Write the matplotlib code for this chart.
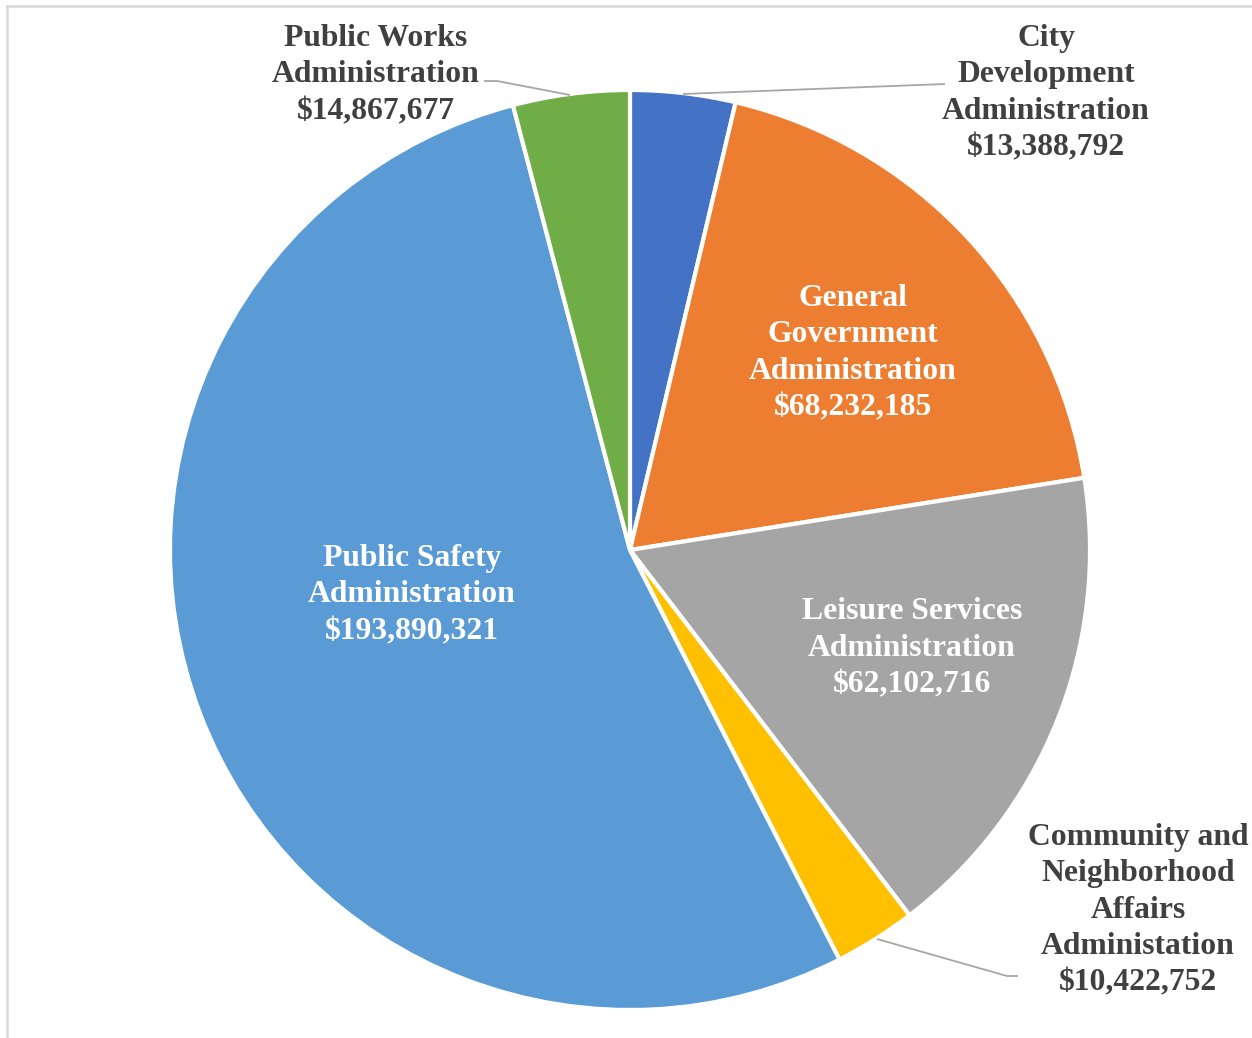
import matplotlib.pyplot as plt

# department budgets, clockwise from 12 o'clock
departments = [
    'City\nDevelopment\nAdministration',
    'General\nGovernment\nAdministration',
    'Leisure Services\nAdministration',
    'Community and\nNeighborhood\nAffairs\nAdministation',
    'Public Safety\nAdministration',
    'Public Works\nAdministration',
]
budgets = [13388792, 68232185, 62102716, 10422752, 193890321, 14867677]
colors = ['#4472C4', '#ED7D31', '#A5A5A5', '#FFC000', '#5B9BD5', '#70AD47']

W, H = 1252, 1038
fig = plt.figure(figsize=(W / 100, H / 100), dpi=100)
ax = fig.add_axes([0, 0, 1, 1])

cx, cy, r = 630, H - 550, 460
ax.pie(budgets, colors=colors, startangle=90, counterclock=False,
       center=(cx, cy), radius=r, frame=True,
       wedgeprops={'edgecolor': 'white', 'linewidth': 3})
ax.set_xlim(0, W)
ax.set_ylim(0, H)
ax.set_aspect('equal')
ax.axis('off')

# label position (pixels from top-left), text colour, optional leader line
label_pos = [(1046, 93), (853, 353), (912, 648), (1138, 910), (412, 595), (376, 75)]
label_color = ['#404040', 'white', 'white', '#404040', 'white', '#404040']
leaders = {
    0: [(683, 94), (945, 84)],
    3: [(877, 939), (1007, 976), (1018, 976)],
    5: [(570, 95), (497, 81), (484, 81)],
}

for i, (name, val) in enumerate(zip(departments, budgets)):
    x, y = label_pos[i]
    ax.text(x, H - y, f'{name}\n${val:,}', ha='center', va='center',
            color=label_color[i], fontsize=22.8, fontweight='bold',
            family='Liberation Serif', linespacing=1.34)
    if i in leaders:
        pts = leaders[i]
        ax.plot([p[0] for p in pts], [H - p[1] for p in pts],
                color='#A6A6A6', linewidth=1.3, solid_capstyle='butt')

# chart area border (top and left edges visible)
ax.plot([7, W], [H - 6, H - 6], color='#D9D9D9', linewidth=1.8)
ax.plot([7, 7], [0, H - 6], color='#D9D9D9', linewidth=1.8)

fig.savefig('out.png', dpi=100)
